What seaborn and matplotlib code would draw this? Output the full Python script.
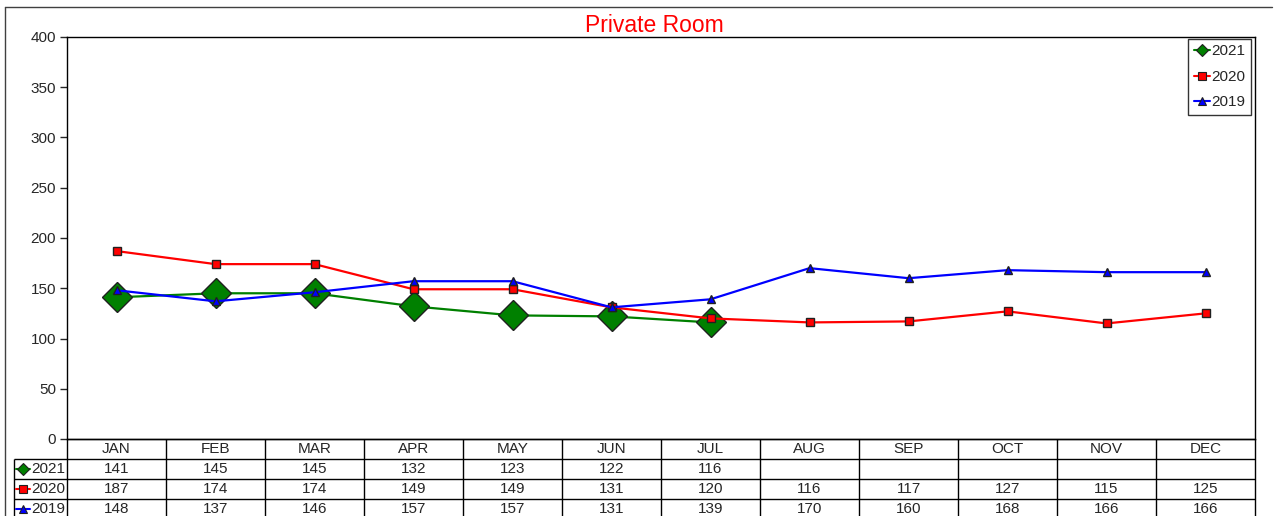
import numpy as np
import pandas as pd
import matplotlib
matplotlib.use("Agg")
import matplotlib.pyplot as plt
from matplotlib.lines import Line2D
import seaborn as sns

months = ["JAN", "FEB", "MAR", "APR", "MAY", "JUN", "JUL", "AUG", "SEP", "OCT", "NOV", "DEC"]
y2021 = [141, 145, 145, 132, 123, 122, 116, None, None, None, None, None]
y2020 = [187, 174, 174, 149, 149, 131, 120, 116, 117, 127, 115, 125]
y2019 = [148, 137, 146, 157, 157, 131, 139, 170, 160, 168, 166, 166]

W, H = 1276, 516

sns.set_style("white")
plt.rcParams["font.family"] = ["Liberation Sans", "DejaVu Sans"]

fig = plt.figure(figsize=(W / 100, H / 100), dpi=100)

def fx(px):
    return px / W

def fy(py):
    return 1 - py / H

# plot area + table area
ax = fig.add_axes([fx(67), fy(439), fx(1255) - fx(67), fy(37) - fy(439)])
tax = fig.add_axes([fx(14), fy(519), fx(1255) - fx(14), fy(439) - fy(519)])

series = [
    ("2021", y2021, "#008000", "D", 15, 6),
    ("2020", y2020, "#ff0000", "s", 6, 6),
    ("2019", y2019, "#0000ff", "^", 6, 6),
]

df = pd.DataFrame({"x": np.arange(12)})
for name, vals, color, mk, ms, lms in series:
    df[name] = pd.Series(vals, dtype="float")
    sns.lineplot(data=df, x="x", y=name, ax=ax, color=color, marker=mk,
                 markersize=ms, markeredgecolor="#202020", markeredgewidth=1,
                 linewidth=1.6, label=None)

ax.set_xlim(-0.5, 11.5)
ax.set_ylim(0, 400)
ax.set_yticks(range(0, 401, 50))
ax.set_xticks([])
ax.set_xlabel("")
ax.set_ylabel("")
ax.tick_params(axis="y", direction="out", length=5, width=1, labelsize=11, pad=3, left=True)
for s in ax.spines.values():
    s.set_color("black")
    s.set_linewidth(1)

handles = [Line2D([0], [0], color=c, marker=mk, markersize=lms,
                  markeredgecolor="#202020", markeredgewidth=0.8, linewidth=1.5)
           for _, _, c, mk, _, lms in series]
leg = ax.legend(handles, [s[0] for s in series], loc="upper right",
                bbox_to_anchor=(0.9975, 0.9985), fontsize=11, frameon=True,
                fancybox=False, edgecolor="black", handlelength=1.1,
                handletextpad=0.05, borderpad=0.35, labelspacing=0.75,
                borderaxespad=0.1)
leg.get_frame().set_linewidth(1)

fig.text(fx(654), fy(26), "Private Room", color="red", fontsize=16.5,
         ha="center", va="center")

# data table under the plot
labw = 53 / 99
x0 = -0.5 - labw
tax.set_xlim(x0, 11.5)
tax.set_ylim(4, 0)
tax.axis("off")

lk = dict(color="black", linewidth=1, clip_on=False)
tax.hlines(0, -0.5, 11.5, **lk)
for r in (1, 2, 3, 4):
    tax.hlines(r, x0, 11.5, **lk)
for i in range(13):
    tax.vlines(i - 0.5, 0, 4, **lk)
tax.vlines(x0, 1, 4, **lk)

for i, m in enumerate(months):
    tax.text(i, 0.5, m, ha="center", va="center", fontsize=11)

for r, (name, vals, color, mk, _, lms) in enumerate(series, start=1):
    for i, v in enumerate(vals):
        if v is not None:
            tax.text(i, r + 0.5, str(v), ha="center", va="center", fontsize=11)
    gx = x0 + (23 - 14) / 99
    tax.plot([x0 + 2 / 99, x0 + 16 / 99], [r + 0.5, r + 0.5], color=color, linewidth=1.5, clip_on=False)
    tax.plot([gx], [r + 0.5], marker=mk, color=color, markersize=lms,
             markeredgecolor="#202020", markeredgewidth=0.8, clip_on=False)
    tax.text(x0 + 17 / 99, r + 0.5, name, ha="left", va="center", fontsize=11)

# outer frame
fig.add_artist(Line2D([fx(5), fx(1272)], [fy(7), fy(7)], color="#404040", linewidth=1))
fig.add_artist(Line2D([fx(5), fx(5)], [fy(7), 0], color="#404040", linewidth=1))

fig.savefig("out.png", dpi=100)
